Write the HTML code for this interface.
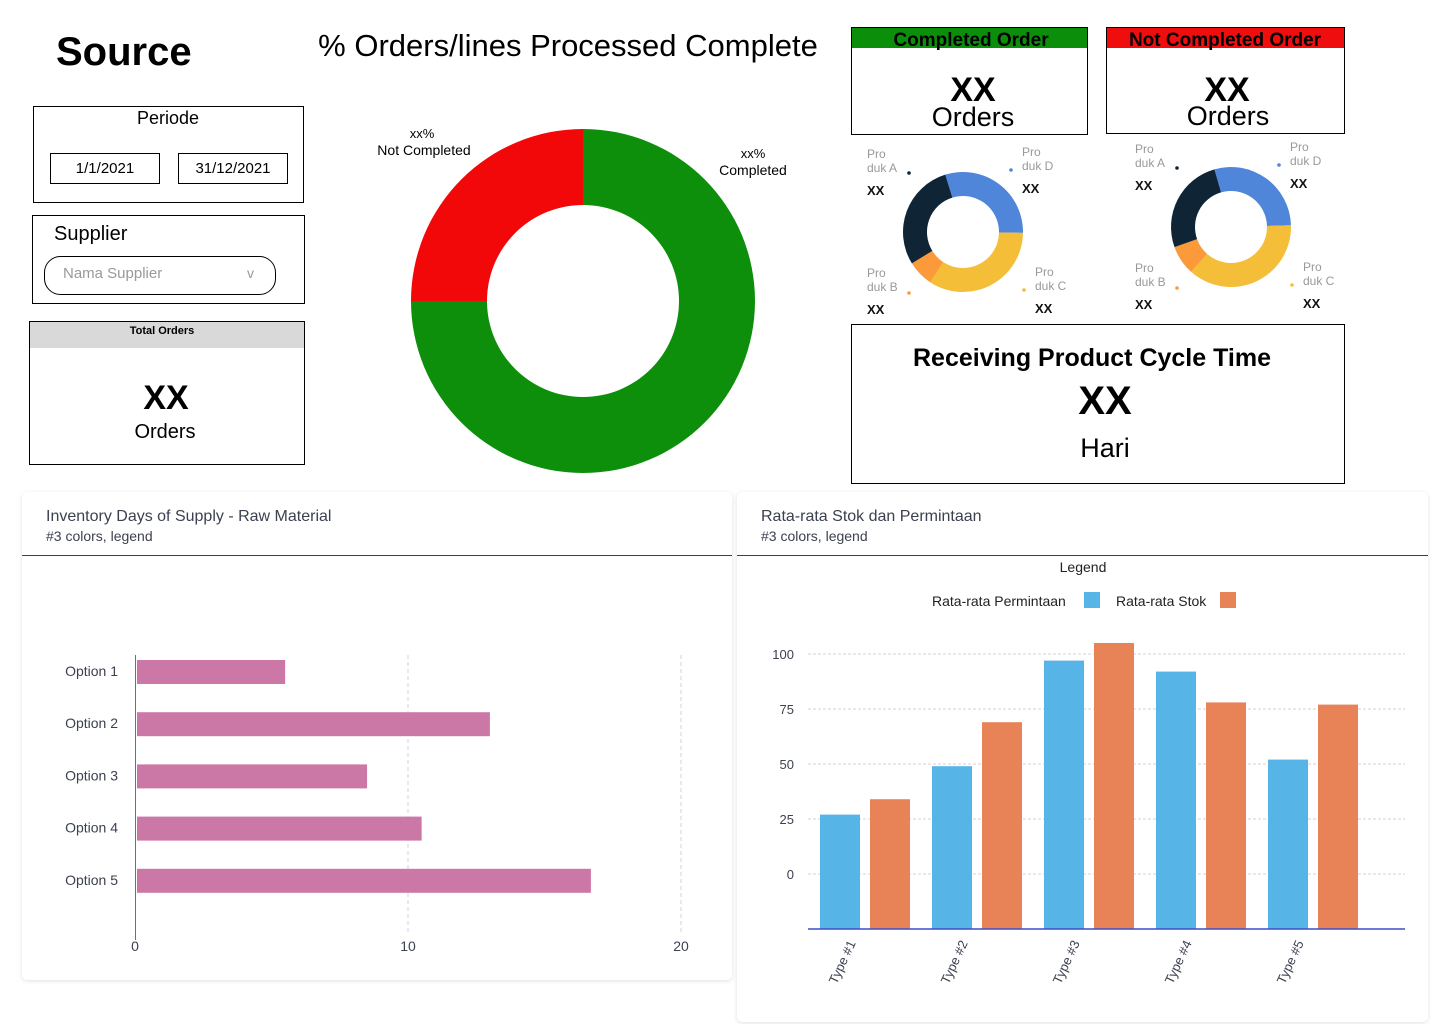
<!DOCTYPE html>
<html><head><meta charset="utf-8">
<style>
html,body{margin:0;padding:0;background:#fff;width:1440px;height:1024px;overflow:hidden;font-family:"Liberation Sans",sans-serif}
svg text{font-family:"Liberation Sans",sans-serif}
</style></head>
<body>
<svg id="page" width="1440" height="1024" viewBox="0 0 1440 1024" xmlns="http://www.w3.org/2000/svg">
<defs>
<filter id="sh" x="-5%" y="-5%" width="110%" height="110%"><feDropShadow dx="0" dy="1" stdDeviation="2" flood-color="#000" flood-opacity="0.12"/></filter>
</defs>
<text x="56" y="65" font-size="40" font-weight="bold" fill="#000">Source</text>
<g>
<rect x="33.5" y="106.5" width="270" height="96" fill="#fff" stroke="#000"/>
<text x="168" y="124" font-size="18" text-anchor="middle">Periode</text>
<g><rect x="50.5" y="153.5" width="109" height="30" fill="#fff" stroke="#000"/><text x="105" y="173" font-size="15" text-anchor="middle">1/1/2021</text></g>
<g><rect x="178.5" y="153.5" width="109" height="30" fill="#fff" stroke="#000"/><text x="233" y="173" font-size="15" text-anchor="middle">31/12/2021</text></g>
</g>
<g>
<rect x="32.5" y="215.5" width="272" height="88" fill="#fff" stroke="#000"/>
<text x="54" y="240" font-size="20">Supplier</text>
<g><rect x="44.5" y="256.5" width="231" height="38" rx="16" fill="#fff" stroke="#000"/>
<text x="63" y="278" font-size="15" fill="#999">Nama Supplier</text><text x="247" y="278" font-size="14" fill="#999">v</text></g>
</g>
<g>
<rect x="29.5" y="321.5" width="275" height="143" fill="#fff" stroke="#000"/>
<rect x="30" y="322" width="274" height="26" fill="#d9d9d9"/>
<text x="162" y="334" font-size="11" font-weight="bold" text-anchor="middle">Total Orders</text>
<text x="166" y="409" font-size="34" font-weight="bold" text-anchor="middle">XX</text>
<text x="165" y="438" font-size="20" text-anchor="middle">Orders</text>
</g>
<text x="568" y="56" font-size="31" text-anchor="middle">% Orders/lines Processed Complete</text>
<g id="mainDonut"></g>
<text x="422" y="138" font-size="13" text-anchor="middle">xx%</text>
<text x="424" y="155" font-size="14" text-anchor="middle">Not Completed</text>
<text x="753" y="158" font-size="13" text-anchor="middle">xx%</text>
<text x="753" y="175" font-size="14" text-anchor="middle">Completed</text>
<g>
<rect x="851.5" y="27.5" width="236" height="107" fill="#fff" stroke="#000"/>
<rect x="852" y="28" width="235" height="20" fill="#0b8f0b"/>
<text x="971" y="46" font-size="19" font-weight="bold" text-anchor="middle">Completed Order</text>
<text x="973" y="101" font-size="34" font-weight="bold" text-anchor="middle">XX</text>
<text x="973" y="126" font-size="27" text-anchor="middle">Orders</text>
</g>
<g>
<rect x="1106.5" y="27.5" width="238" height="106" fill="#fff" stroke="#000"/>
<rect x="1107" y="28" width="237" height="20" fill="#f00d0d"/>
<text x="1225" y="46" font-size="19" font-weight="bold" text-anchor="middle">Not Completed Order</text>
<text x="1227" y="101" font-size="34" font-weight="bold" text-anchor="middle">XX</text>
<text x="1228" y="125" font-size="27" text-anchor="middle">Orders</text>
</g>
<g id="smallDonuts"></g>
<g>
<rect x="851.5" y="324.5" width="493" height="159" fill="#fff" stroke="#000"/>
<text x="1092" y="366" font-size="25" font-weight="bold" text-anchor="middle">Receiving Product Cycle Time</text>
<text x="1105" y="414" font-size="40" font-weight="bold" text-anchor="middle">XX</text>
<text x="1105" y="457" font-size="27" text-anchor="middle">Hari</text>
</g>
<g>
<rect x="22" y="492" width="710" height="488" rx="6" fill="#fff" filter="url(#sh)"/>
<text x="46" y="521" font-size="16" fill="#3c4150">Inventory Days of Supply - Raw Material</text>
<text x="46" y="541" font-size="14" fill="#3c4150">#3 colors, legend</text>
<line x1="22" y1="555.5" x2="732" y2="555.5" stroke="#3a3f55"/>
<g id="hbar"></g>
</g>
<g>
<rect x="737" y="492" width="691" height="530" rx="6" fill="#fff" filter="url(#sh)"/>
<text x="761" y="521" font-size="16" fill="#3c4150">Rata-rata Stok dan Permintaan</text>
<text x="761" y="541" font-size="14" fill="#3c4150">#3 colors, legend</text>
<line x1="737" y1="555.5" x2="1428" y2="555.5" stroke="#3a3f55"/>
<text x="1083" y="572" font-size="14" text-anchor="middle" fill="#222">Legend</text>
<g><text x="932" y="606" font-size="14" fill="#222">Rata-rata Permintaan</text><rect x="1084" y="592" width="16" height="16" fill="#56b4e6"/></g>
<g><text x="1116" y="606" font-size="14" fill="#222">Rata-rata Stok</text><rect x="1220" y="592" width="16" height="16" fill="#e88358"/></g>
<g id="vbar"></g>
</g>
</svg>
<script>
const donutLabels = ["Completed","Not Completed"];
const donutValues = [75,25];
const smallLabels = ["Produk D","Produk C","Produk B","Produk A"];
const smallValues1 = [30,34,7,29];
const smallValues2 = [29,37,8,26];
const hbarCategories = ["Option 1","Option 2","Option 3","Option 4","Option 5"];
const hbarValues = [5.5,13,8.5,10.5,16.7];
const hbarTicks = [0,10,20];
const vbarCategories = ["Type #1","Type #2","Type #3","Type #4","Type #5"];
const permintaanValues = [27,49,97,92,52];
const stokValues = [34,69,105,78,77];
const vbarTicks = [0,25,50,75,100];

const NS="http://www.w3.org/2000/svg";
function mk(tag,attrs,parent){const e=document.createElementNS(NS,tag);for(const k in attrs)e.setAttribute(k,attrs[k]);parent.appendChild(e);return e;}
function arc(cx,cy,r0,r1,a0,a1){
  const p=(r,a)=>[cx+r*Math.sin(a),cy-r*Math.cos(a)];
  const lg=(a1-a0)>Math.PI?1:0;
  const [x0,y0]=p(r1,a0),[x1,y1]=p(r1,a1),[x2,y2]=p(r0,a1),[x3,y3]=p(r0,a0);
  return `M${x0},${y0}A${r1},${r1} 0 ${lg} 1 ${x1},${y1}L${x2},${y2}A${r0},${r0} 0 ${lg} 0 ${x3},${y3}Z`;
}
(function(){
  const g=document.getElementById('mainDonut');
  const cols=["#0d8f0b","#f20808"];
  const tot=donutValues.reduce((a,b)=>a+b,0);let a=0;
  donutValues.forEach((v,i)=>{const a1=a+v/tot*2*Math.PI;
    const p=mk('path',{d:arc(583,301,96,172,a,a1),fill:cols[i]},g);
    
    
    a=a1;});
})();
(function(){
  const g=document.getElementById('smallDonuts');
  const cols=["#4f86d9","#f4be38","#fb9a3b","#0f2536"];
  [[smallValues1,963,232,-0.3],[smallValues2,1231,227,-0.28]].forEach((cfg,k)=>{
    const [vals,cx,cy,start]=cfg;const sg=mk('g',{},g);
    
    
    const tot=vals.reduce((a,b)=>a+b,0);let a=start;
    vals.forEach((v,i)=>{const a1=a+v/tot*2*Math.PI;
      const p=mk('path',{d:arc(cx,cy,36,60,a,a1),fill:cols[i]},sg);
      
      
      a=a1;});
    const dx=k==0?0:268, dy=k==0?0:-5;
    const labs=[["Pro","duk A",867,158,909,173,"#0f2536"],["Pro","duk D",1022,156,1011,170,"#4f86d9"],["Pro","duk B",867,277,909,293,"#fb9a3b"],["Pro","duk C",1035,276,1024,290,"#f4be38"]];
    labs.forEach(l=>{
      const t1=mk('text',{x:l[2]+dx,y:l[3]+dy,'font-size':12,fill:'#999'},sg);t1.textContent=l[0];
      const t2=mk('text',{x:l[2]+dx,y:l[3]+14+dy,'font-size':12,fill:'#999'},sg);t2.textContent=l[1];
      const t3=mk('text',{x:l[2]+dx,y:l[3]+37+dy,'font-size':13,'font-weight':'bold',fill:'#111'},sg);t3.textContent='XX';
      mk('circle',{cx:l[4]+dx,cy:l[5]+dy,r:1.8,fill:l[6]},sg);
    });
  });
})();
(function(){
  const g=document.getElementById('hbar');
  const x=v=>135+v*27.3; const y0=672, step=52.2, bh=24;
  hbarTicks.forEach(t=>{
    if(t>0) mk('line',{x1:x(t),y1:655,x2:x(t),y2:935,stroke:'#d0d3e0','stroke-dasharray':'4,3'},g);
    const tx=mk('text',{x:x(t),y:951,'font-size':14,fill:'#3c4150','text-anchor':'middle'},g);tx.textContent=t;
  });
  mk('line',{x1:135.5,y1:655,x2:135.5,y2:940,stroke:'#5a66d6'},g);
  hbarCategories.forEach((c,i)=>{
    const cy=y0+i*step;
    const r=mk('rect',{x:137,y:cy-bh/2,width:x(hbarValues[i])-137,height:bh,fill:'#cc78a6'},g);
    
    
    const t=mk('text',{x:118,y:cy+4,'font-size':14,fill:'#3c4150','text-anchor':'end'},g);t.textContent=c;
  });
})();
(function(){
  const g=document.getElementById('vbar');
  const y=v=>874-v*2.2; const base=y(-25);
  vbarTicks.forEach(t=>{
    mk('line',{x1:808,y1:y(t),x2:1405,y2:y(t),stroke:'#d0d3dc','stroke-dasharray':'3,2'},g);
    const tx=mk('text',{x:794,y:y(t)+5,'font-size':13,fill:'#3c4150','text-anchor':'end'},g);tx.textContent=t;
  });
  vbarCategories.forEach((c,i)=>{
    const gx=820+i*112;
    const b1=mk('rect',{x:gx,y:y(permintaanValues[i]),width:40,height:base-y(permintaanValues[i]),fill:'#56b4e6'},g);
    
    
    const b2=mk('rect',{x:gx+50,y:y(stokValues[i]),width:40,height:base-y(stokValues[i]),fill:'#e88358'},g);
    
    
    const t=mk('text',{x:0,y:0,'font-size':13,fill:'#3c4150','text-anchor':'end',transform:`translate(${gx+36},${base+14}) rotate(-65)`},g);t.textContent=c;
  });
  mk('line',{x1:808,y1:base,x2:1405,y2:base,stroke:'#3b4fc9','stroke-width':1.5},g);
})();
</script>
</body></html>
